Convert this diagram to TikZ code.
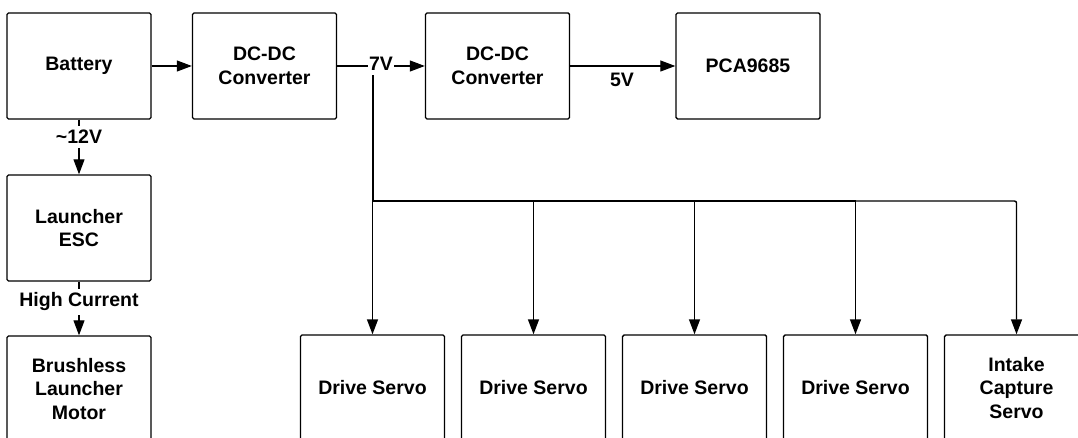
\documentclass[tikz,border=0pt]{standalone}
\usepackage{fontspec}
\setmainfont{Liberation Sans}
\usetikzlibrary{arrows.meta}
\begin{document}
\begin{tikzpicture}[x=1pt,y=-1pt,
  box/.style={draw, line width=1.4pt, rounded corners=1.5pt, minimum width=144pt, minimum height=106pt,
    align=center, inner sep=0pt, font=\bfseries\fontsize{19.5}{23.5}\selectfont},
  conn/.style={line width=1.2pt, -{Triangle[length=15pt,width=11pt]}},
  trunk/.style={line width=2pt},
  lbl/.style={fill=white, inner xsep=1pt, inner ysep=4pt, font=\bfseries\fontsize{19.5}{23.5}\selectfont},
]
\useasboundingbox (0,0) rectangle (1078,438);
\clip (0,0) rectangle (1078,438);
\fill[white] (0,0) rectangle (1078,438);

\node[box] (bat) at (79,66) {Battery};
\node[box] (dc1) at (264.5,66) {DC-DC\\Converter};
\node[box] (dc2) at (497.5,66) {DC-DC\\Converter};
\node[box] (pca) at (748,66) {PCA9685};
\node[box] (esc) at (79,228) {Launcher\\ESC};
\node[box] (mot) at (79,389) {Brushless\\Launcher\\Motor};
\node[box] (s1) at (372.5,388) {Drive Servo};
\node[box] (s2) at (533.5,388) {Drive Servo};
\node[box] (s3) at (694.5,388) {Drive Servo};
\node[box] (s4) at (855.5,388) {Drive Servo};
\node[box] (s5) at (1016.5,388) {Intake\\Capture\\Servo};

\coordinate (j7) at (372.5,66);
\coordinate (b1) at (372.5,201);
\coordinate (b2) at (533.5,201);
\coordinate (b3) at (694.5,201);
\coordinate (b4) at (855.5,201);
\coordinate (b5) at (1016.5,201);

\draw[conn] (bat.east) -- (dc1.west);
\draw[conn] (bat.south) -- (esc.north);
\draw[conn] (esc.south) -- (mot.north);
\draw[trunk] (dc1.east) -- (j7);
\draw[conn] (j7) -- (dc2.west);
\draw[conn] (dc2.east) -- (pca.west);
\draw[trunk] (j7) -- (b1);
\draw[line width=1.6pt] (b1) -- (b4);
\draw[conn, line width=1.4pt, rounded corners=2pt] (b4) -- (b5) -- (s5.north);
\draw[conn, line width=1.4pt] (b1) -- (s1.north);
\draw[conn, line width=1.4pt] (b2) -- (s2.north);
\draw[conn, line width=1.4pt] (b3) -- (s3.north);
\draw[conn, line width=1.4pt] (b4) -- (s4.north);

\node[lbl] (l7) at (381,64) {7V};
\node[lbl] (l12) at (79,137) {\textasciitilde12V};
\node[lbl] (lhc) at (79,302) {High Current};
\node[lbl, fill=none] (l5) at (622,80) {5V};
\end{tikzpicture}
\end{document}
